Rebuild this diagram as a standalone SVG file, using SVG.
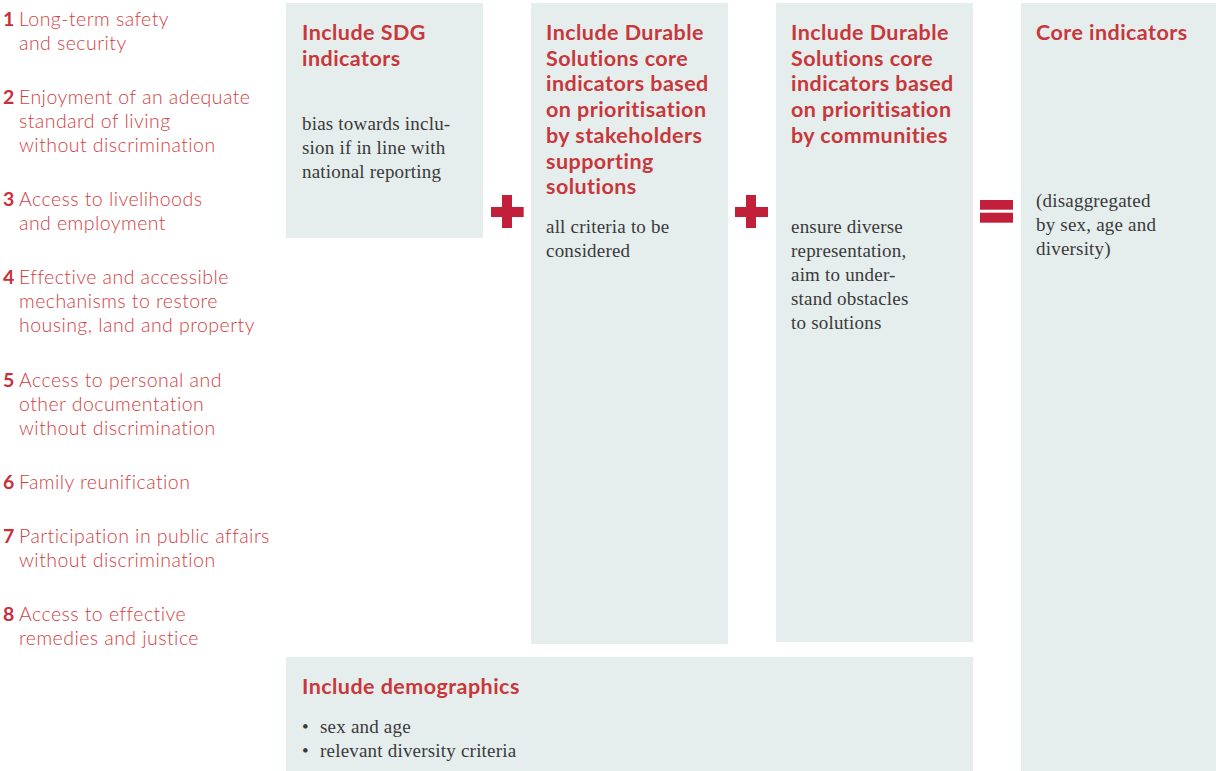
<svg xmlns="http://www.w3.org/2000/svg" width="1216" height="771" viewBox="0 0 1216 771">
<style>
.box{fill:#E5EDED}
.li{font-family:Lato,"Liberation Sans",sans-serif;font-weight:300;font-size:19.5px;letter-spacing:0.45px;fill:#D2413F}
.num{font-weight:700;fill:#C8303A}
.ti{font-family:Lato,"Liberation Sans",sans-serif;font-weight:700;font-size:21.5px;letter-spacing:0.45px;fill:#C8373A}
.bd{font-family:"Liberation Serif",serif;font-size:19px;letter-spacing:0.2px;fill:#3a3a3a}
.op{fill:#C21F3A}
</style>
<rect width="1216" height="771" fill="#fff"/>
<g id="criteria-list">
<text class="li" x="3" y="26"><tspan class="num">1</tspan><tspan x="19">Long-term safety</tspan><tspan x="19" dy="24">and security</tspan></text>
<text class="li" x="3" y="104"><tspan class="num">2</tspan><tspan x="19">Enjoyment of an adequate</tspan><tspan x="19" dy="24">standard of living</tspan><tspan x="19" dy="24">without discrimination</tspan></text>
<text class="li" x="3" y="206"><tspan class="num">3</tspan><tspan x="19">Access to livelihoods</tspan><tspan x="19" dy="24">and employment</tspan></text>
<text class="li" x="3" y="284"><tspan class="num">4</tspan><tspan x="19">Effective and accessible</tspan><tspan x="19" dy="24">mechanisms to restore</tspan><tspan x="19" dy="24">housing, land and property</tspan></text>
<text class="li" x="3" y="387"><tspan class="num">5</tspan><tspan x="19">Access to personal and</tspan><tspan x="19" dy="24">other documentation</tspan><tspan x="19" dy="24">without discrimination</tspan></text>
<text class="li" x="3" y="489"><tspan class="num">6</tspan><tspan x="19">Family reunification</tspan></text>
<text class="li" x="3" y="543"><tspan class="num">7</tspan><tspan x="19">Participation in public affairs</tspan><tspan x="19" dy="24">without discrimination</tspan></text>
<text class="li" x="3" y="621"><tspan class="num">8</tspan><tspan x="19">Access to effective</tspan><tspan x="19" dy="24">remedies and justice</tspan></text>
</g>
<g id="sdg">
<rect class="box" x="286" y="3" width="197" height="235"/>
<text class="ti" x="302" y="40"><tspan x="302">Include SDG</tspan><tspan x="302" dy="25.7">indicators</tspan></text>
<text class="bd" x="302" y="130"><tspan x="302">bias towards inclu-</tspan><tspan x="302" dy="24">sion if in line with</tspan><tspan x="302" dy="24">national reporting</tspan></text>
</g>
<g id="stakeholders">
<rect class="box" x="531" y="3" width="197" height="641"/>
<text class="ti" y="40"><tspan x="546">Include Durable</tspan><tspan x="546" dy="25.7">Solutions core</tspan><tspan x="546" dy="25.7">indicators based</tspan><tspan x="546" dy="25.7">on prioritisation</tspan><tspan x="546" dy="25.7">by stakeholders</tspan><tspan x="546" dy="25.7">supporting</tspan><tspan x="546" dy="25.7">solutions</tspan></text>
<text class="bd" y="233"><tspan x="546">all criteria to be</tspan><tspan x="546" dy="24">considered</tspan></text>
</g>
<g id="communities">
<rect class="box" x="776" y="3" width="197" height="639"/>
<text class="ti" y="40"><tspan x="791">Include Durable</tspan><tspan x="791" dy="25.7">Solutions core</tspan><tspan x="791" dy="25.7">indicators based</tspan><tspan x="791" dy="25.7">on prioritisation</tspan><tspan x="791" dy="25.7">by communities</tspan></text>
<text class="bd" y="233"><tspan x="791">ensure diverse</tspan><tspan x="791" dy="24">representation,</tspan><tspan x="791" dy="24">aim to under-</tspan><tspan x="791" dy="24">stand obstacles</tspan><tspan x="791" dy="24">to solutions</tspan></text>
</g>
<g id="core">
<rect class="box" x="1021" y="3" width="195" height="768"/>
<text class="ti" x="1036" y="40">Core indicators</text>
<text class="bd" y="207"><tspan x="1036">(disaggregated</tspan><tspan x="1036" dy="24">by sex, age and</tspan><tspan x="1036" dy="24">diversity)</tspan></text>
</g>
<g id="demographics">
<rect class="box" x="286" y="657" width="687" height="114"/>
<text class="ti" x="302" y="694">Include demographics</text>
<text class="bd" y="733"><tspan x="302">•</tspan><tspan x="320">sex and age</tspan><tspan x="302" dy="24">•</tspan><tspan x="320">relevant diversity criteria</tspan></text>
</g>
<g id="connectors">
<path class="op" d="M502 195h10v12h11.7v10h-11.7v11h-10v-11h-11v-10h11z"/>
<path class="op" d="M746 195h10v12h12v10h-12v11h-10v-11h-11v-10h11z"/>
<rect class="op" x="980" y="200" width="33" height="9.7"/>
<rect class="op" x="980" y="212.7" width="33" height="10"/>
</g>
</svg>
